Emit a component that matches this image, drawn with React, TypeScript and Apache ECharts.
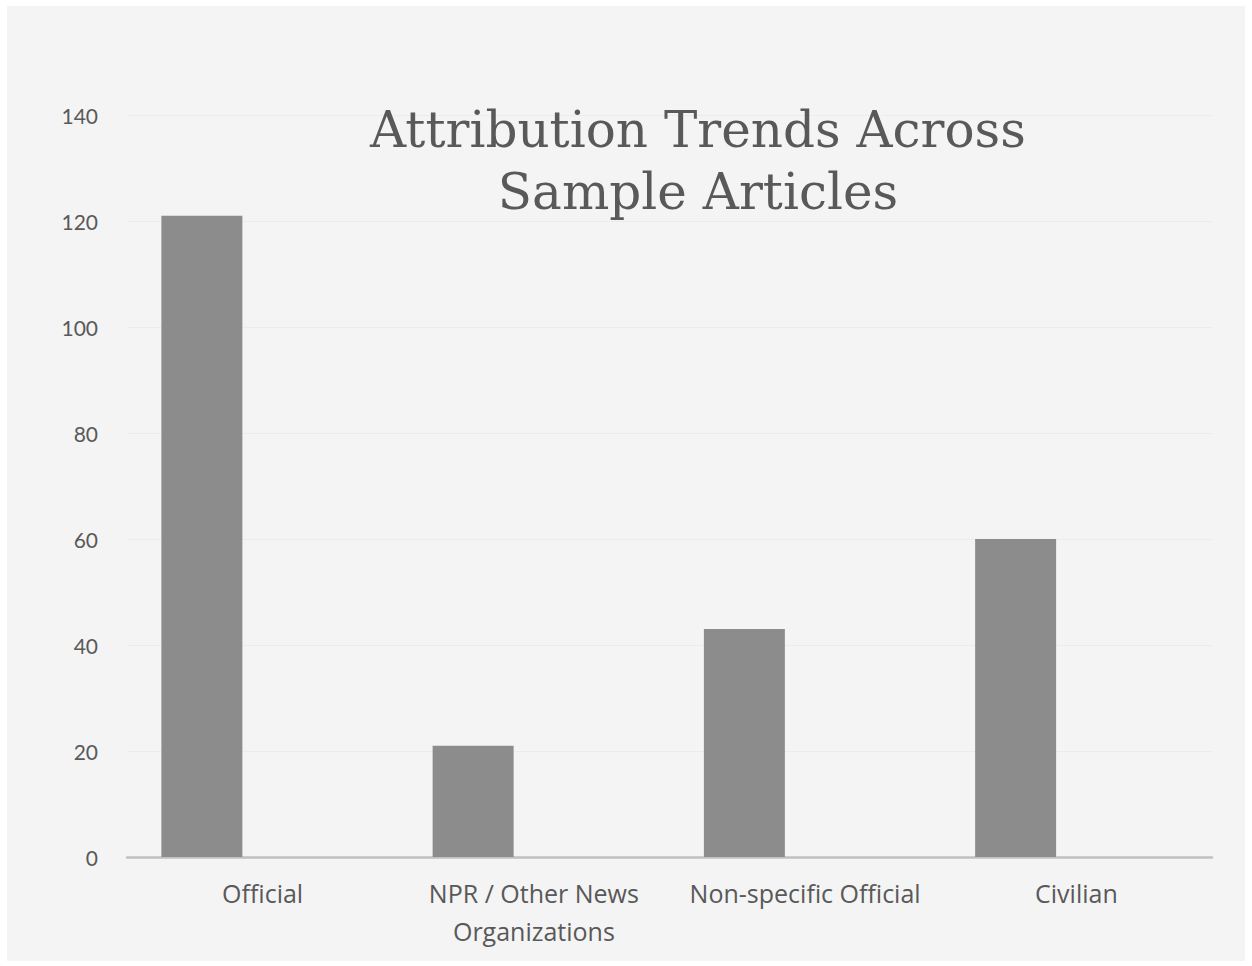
import React, { useEffect, useRef } from "react";
import * as echarts from "echarts";

const categories = ["Official", "NPR / Other News\nOrganizations", "Non-specific Official", "Civilian"];
const counts = [121, 21, 43, 60];
const emptySeries: (number | null)[] = [null, null, null, null];
const titleText = "Attribution Trends Across\nSample Articles";

export default function App() {
  const ref = useRef<HTMLDivElement>(null);
  useEffect(() => {
    const chart = echarts.init(ref.current!, undefined, { renderer: "svg" });
    chart.setOption({
      animation: false,
      backgroundColor: "#ffffff",
      graphic: [
        {
          type: "rect",
          z: -10,
          silent: true,
          shape: { x: 7, y: 6, width: 1238, height: 955 },
          style: { fill: "#f4f4f4" },
        },
      ],
      title: {
        text: titleText,
        left: 693,
        textAlign: "center",
        top: 94,
        textStyle: {
          fontFamily: "DejaVu Serif",
          fontWeight: "normal",
          fontSize: 50,
          lineHeight: 62,
          color: "#595959",
        },
      },
      grid: { left: 127, right: 40, top: 115, bottom: 109, containLabel: false },
      xAxis: {
        type: "category",
        data: categories,
        axisLine: { show: true, lineStyle: { color: "#c0c0c0", width: 2.5 } },
        axisTick: { show: false },
        axisLabel: {
          interval: 0,
          margin: 17,
          fontFamily: "Open Sans",
          fontSize: 25,
          lineHeight: 38,
          color: "#595959",
        },
      },
      yAxis: {
        type: "value",
        min: 0,
        max: 140,
        interval: 20,
        axisLine: { show: false },
        axisTick: { show: false },
        splitLine: { show: true, lineStyle: { color: "#ececec", width: 1 } },
        axisLabel: {
          margin: 29,
          fontFamily: "Lato",
          fontSize: 21,
          color: "#595959",
        },
      },
      series: [
        {
          type: "bar",
          data: counts,
          barWidth: 81,
          barGap: "50%",
          itemStyle: { color: "#8c8c8c" },
        },
        {
          type: "bar",
          data: emptySeries,
          barWidth: 81,
          itemStyle: { color: "#8c8c8c" },
        },
      ],
    });
    return () => chart.dispose();
  }, []);
  return (
    <div
      ref={ref}
      style={{ position: "fixed", left: 0, top: 0, width: 1252, height: 966 }}
    />
  );
}
